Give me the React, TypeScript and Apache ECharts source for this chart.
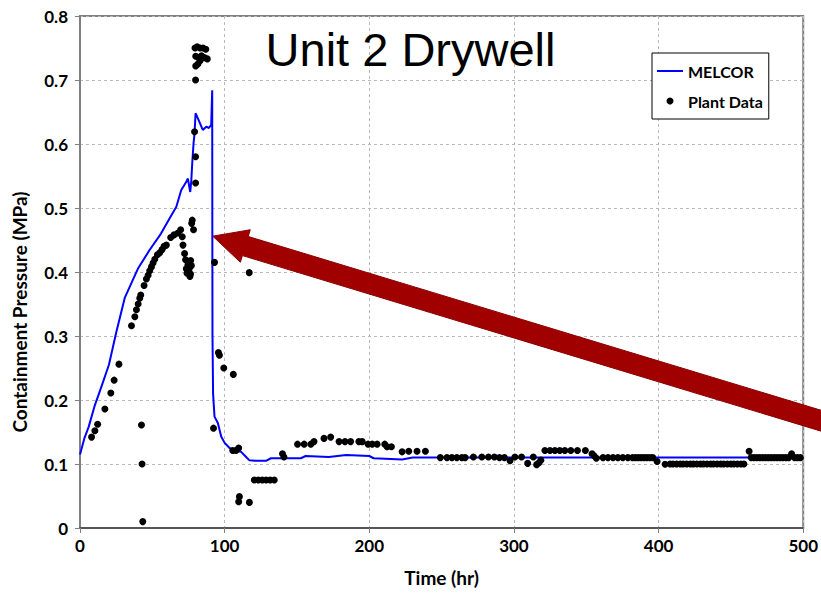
import React, { useEffect, useRef } from "react";
import * as echarts from "echarts";

const xTicks = [0, 100, 200, 300, 400, 500];
const yTicks = [0, 0.1, 0.2, 0.3, 0.4, 0.5, 0.6, 0.7, 0.8];

const melcorTime = [0, 3, 6, 10, 15, 20, 25, 31, 36, 40, 48, 56, 62, 66.6, 70, 73.5, 74.6, 76.2, 76.9, 77.6, 78.5, 79.2, 79.9, 81.5, 84.9, 87.3, 89.1, 90.7, 91.4, 91.5, 91.6, 92, 93, 95.3, 97.6, 100, 103.4, 107, 111.4, 114, 117, 121, 128.6, 132, 140, 152.7, 156, 172, 184, 200, 203, 222.7, 230, 310, 400, 462, 500];
const melcorPressure = [0.115, 0.14, 0.158, 0.19, 0.222, 0.255, 0.305, 0.36, 0.385, 0.405, 0.434, 0.46, 0.484, 0.502, 0.528, 0.541, 0.546, 0.525, 0.541, 0.57, 0.601, 0.617, 0.648, 0.64, 0.622, 0.627, 0.625, 0.63, 0.684, 0.45, 0.3, 0.21, 0.174, 0.164, 0.143, 0.133, 0.125, 0.121, 0.119, 0.113, 0.106, 0.105, 0.105, 0.109, 0.109, 0.109, 0.1125, 0.111, 0.114, 0.1125, 0.109, 0.107, 0.11, 0.11, 0.11, 0.11, 0.109];

const plantTime = [
  8, 10.3, 12.2, 17.2, 21.3, 23.6, 26.9, 35.6, 37.9, 39, 40.2, 41.3, 42, 42.5, 42.9, 43.4,
  44.3, 45.9, 47.1, 48.2, 49.4, 50.5, 51.7, 53.5, 55.1, 56.7, 58.1, 59.7, 62.7, 65, 67.7, 69.6,
  70.7, 71.2, 72.3, 73, 74.6, 75.1, 76.4, 77, 73.5, 74, 75.5, 76.5, 76, 77.2, 77.6, 78.5,
  79.2, 79.9, 79.9, 79.9,
  79.5, 81, 83, 85, 87, 80, 82, 84, 86, 88, 80, 81.5, 83,
  93, 92.3, 95.7, 96.4, 99.4, 106, 105.6, 107.9, 109.7, 109.7, 110.2, 117.1, 117,
  120.5, 123.3, 126, 128.7, 131.5, 134.3, 140, 141,
  150.4, 155, 159.6, 161.8, 168.7, 173.3, 179.1, 183.2, 187.1, 192.8, 195.1, 199.2, 202, 205.4, 210.7, 212.3, 215.3,
  222.7, 227.3, 233, 238.8,
  249.1, 253.7, 257.1, 260.5, 264, 266.3, 272, 277.8, 282.4, 286.5, 290, 293.4, 297.3, 300.7, 305.3, 309.5, 313.4, 315.7, 317.3, 318.6,
  321.4, 324.9, 328.3, 331.7, 335.2, 339.3, 343.9, 349.4, 354, 355.4, 357,
  361.6, 365, 368.5, 371.9, 375.3, 378.8, 382, 384, 386, 388, 390, 392, 394, 396, 399, 404.5,
  408, 410, 412.5, 415, 417, 419.5, 422, 424, 426.5, 429, 431, 433.5, 436, 438, 440.5, 443, 445, 447.5, 450, 452, 454.5, 457, 459,
  462.6, 464, 466, 468, 470, 472, 474, 476, 478, 480, 482, 484, 486, 488, 490, 492, 494, 496, 498
];
const plantPressure = [
  0.142, 0.152, 0.162, 0.186, 0.211, 0.231, 0.256, 0.316, 0.33, 0.341, 0.35, 0.359, 0.364, 0.161, 0.1, 0.01,
  0.379, 0.389, 0.395, 0.402, 0.408, 0.414, 0.42, 0.427, 0.43, 0.435, 0.44, 0.442, 0.454, 0.458, 0.461, 0.466,
  0.455, 0.442, 0.429, 0.419, 0.411, 0.4, 0.397, 0.41, 0.405, 0.398, 0.405, 0.418, 0.393, 0.476, 0.481, 0.466,
  0.619, 0.58, 0.539, 0.7,
  0.75, 0.752, 0.75, 0.75, 0.748, 0.737, 0.735, 0.738, 0.735, 0.733, 0.722, 0.725, 0.73,
  0.415, 0.156, 0.274, 0.27, 0.25, 0.24, 0.121, 0.121, 0.125, 0.041, 0.049, 0.04, 0.399,
  0.075, 0.075, 0.075, 0.075, 0.075, 0.075, 0.116, 0.111,
  0.131, 0.131, 0.131, 0.135, 0.14, 0.142, 0.135, 0.135, 0.135, 0.135, 0.135, 0.131, 0.131, 0.131, 0.131, 0.127, 0.127,
  0.119, 0.12, 0.12, 0.12,
  0.11, 0.11, 0.11, 0.11, 0.11, 0.11, 0.111, 0.111, 0.111, 0.111, 0.11, 0.11, 0.105, 0.111, 0.111, 0.101, 0.111, 0.099, 0.102, 0.106,
  0.121, 0.121, 0.121, 0.121, 0.121, 0.121, 0.121, 0.121, 0.116, 0.113, 0.109,
  0.11, 0.11, 0.11, 0.11, 0.11, 0.11, 0.11, 0.11, 0.11, 0.11, 0.11, 0.11, 0.11, 0.11, 0.104, 0.0995,
  0.1, 0.1, 0.1, 0.1, 0.1, 0.1, 0.1, 0.1, 0.1, 0.1, 0.1, 0.1, 0.1, 0.1, 0.1, 0.1, 0.1, 0.1, 0.1, 0.1, 0.1, 0.1, 0.1,
  0.12, 0.11, 0.11, 0.11, 0.11, 0.11, 0.11, 0.11, 0.11, 0.11, 0.11, 0.11, 0.11, 0.11, 0.11, 0.116, 0.11, 0.11, 0.11
];

const arrowTip = [91.8, 0.456];

const labelFont = "Lato, 'Liberation Sans', sans-serif";

export default function App() {
  const ref = useRef<HTMLDivElement>(null);
  useEffect(() => {
    if (!ref.current) return;
    const chart = echarts.init(ref.current, null, { renderer: "svg" });
    const option: any = {
      animation: false,
      backgroundColor: "#fff",
      title: {
        text: "Unit 2 Drywell",
        left: "center",
        top: 21,
        textStyle: { fontFamily: "'Liberation Sans', Arial, sans-serif", fontSize: 47, fontWeight: "normal", color: "#000" },
      },
      grid: { left: 80, top: 16, right: 15, bottom: 66, show: true, borderColor: "#808080", borderWidth: 2, backgroundColor: "transparent" },
      legend: {
        orient: "vertical",
        left: 652,
        top: 53,
        backgroundColor: "#fff",
        borderColor: "#000",
        borderWidth: 1,
        borderRadius: 0,
        padding: [9, 6, 9, 4],
        itemWidth: 26,
        itemHeight: 7,
        itemGap: 12,
        textStyle: { fontFamily: labelFont, fontWeight: "bold", fontSize: 16, color: "#000", lineHeight: 18 },
        data: [
          { name: "MELCOR", itemStyle: { opacity: 0 } },
          { name: "Plant Data", icon: "circle", itemStyle: { color: "#000", opacity: 1 } },
        ],
      },
      xAxis: {
        type: "value",
        min: xTicks[0],
        max: xTicks[xTicks.length - 1],
        interval: 100,
        name: "Time (hr)",
        nameLocation: "middle",
        nameGap: 40,
        nameTextStyle: { fontFamily: labelFont, fontWeight: "bold", fontSize: 19, color: "#000" },
        axisLine: { show: true, lineStyle: { color: "#555", width: 2 } },
        axisTick: { show: true, length: 5, lineStyle: { color: "#808080" } },
        axisLabel: { margin: 9, fontFamily: labelFont, fontWeight: "bold", fontSize: 17, color: "#000" },
        splitLine: { show: true, lineStyle: { color: "#b8b8b8", type: [3, 3], width: 1 } },
      },
      yAxis: {
        type: "value",
        min: yTicks[0],
        max: yTicks[yTicks.length - 1],
        interval: 0.1,
        name: "Containment Pressure (MPa)",
        nameLocation: "middle",
        nameGap: 51,
        nameTextStyle: { fontFamily: labelFont, fontWeight: "bold", fontSize: 19, color: "#000", padding: [0, 80, 0, 0] },
        axisLine: { show: true, lineStyle: { color: "#808080", width: 2 } },
        axisTick: { show: true, length: 5, lineStyle: { color: "#808080" } },
        axisLabel: { margin: 12, fontFamily: labelFont, fontWeight: "bold", fontSize: 17, color: "#000", formatter: (v: number) => (v === 0 ? "0" : v.toFixed(1)) },
        splitLine: { show: true, lineStyle: { color: "#b8b8b8", type: [3, 3], width: 1 } },
      },
      series: [
        {
          name: "MELCOR",
          type: "line",
          data: melcorTime.map((t, i) => [t, melcorPressure[i]]),
          showSymbol: false,
          symbol: "none",
          lineStyle: { color: "#0000ff", width: 2 },
          itemStyle: { color: "#0000ff" },
          z: 2,
        },
        {
          name: "Plant Data",
          type: "scatter",
          data: plantTime.map((t, i) => [t, plantPressure[i]]),
          symbol: "circle",
          symbolSize: 7,
          itemStyle: { color: "#000", opacity: 1 },
          z: 3,
        },
      ],
    };
    chart.setOption(option);
    const tip = chart.convertToPixel({ gridIndex: 0 }, arrowTip) as number[];
    const tx = tip[0], ty = tip[1];
    const dx = 822 - tx, dy = 421 - ty;
    const len = Math.sqrt(dx * dx + dy * dy);
    const ux = dx / len, uy = dy / len;
    const nx = -uy, ny = ux;
    const headLen = 34, headHalf = 17, shaftHalf = 10, total = len + 40;
    const bx = tx + ux * headLen, by = ty + uy * headLen;
    const ex = tx + ux * total, ey = ty + uy * total;
    const pts = [
      [tx, ty],
      [bx + nx * headHalf, by + ny * headHalf],
      [bx + nx * shaftHalf, by + ny * shaftHalf],
      [ex + nx * shaftHalf, ey + ny * shaftHalf],
      [ex - nx * shaftHalf, ey - ny * shaftHalf],
      [bx - nx * shaftHalf, by - ny * shaftHalf],
      [bx - nx * headHalf, by - ny * headHalf],
    ];
    chart.setOption({
      graphic: [
        { type: "polygon", shape: { points: pts }, style: { fill: "#a00000", stroke: "#8a0000", lineWidth: 1 }, z: 100 },
      ],
    });
    return () => chart.dispose();
  }, []);
  return <div ref={ref} style={{ position: "fixed", left: 0, top: 0, width: 821, height: 594 }} />;
}
